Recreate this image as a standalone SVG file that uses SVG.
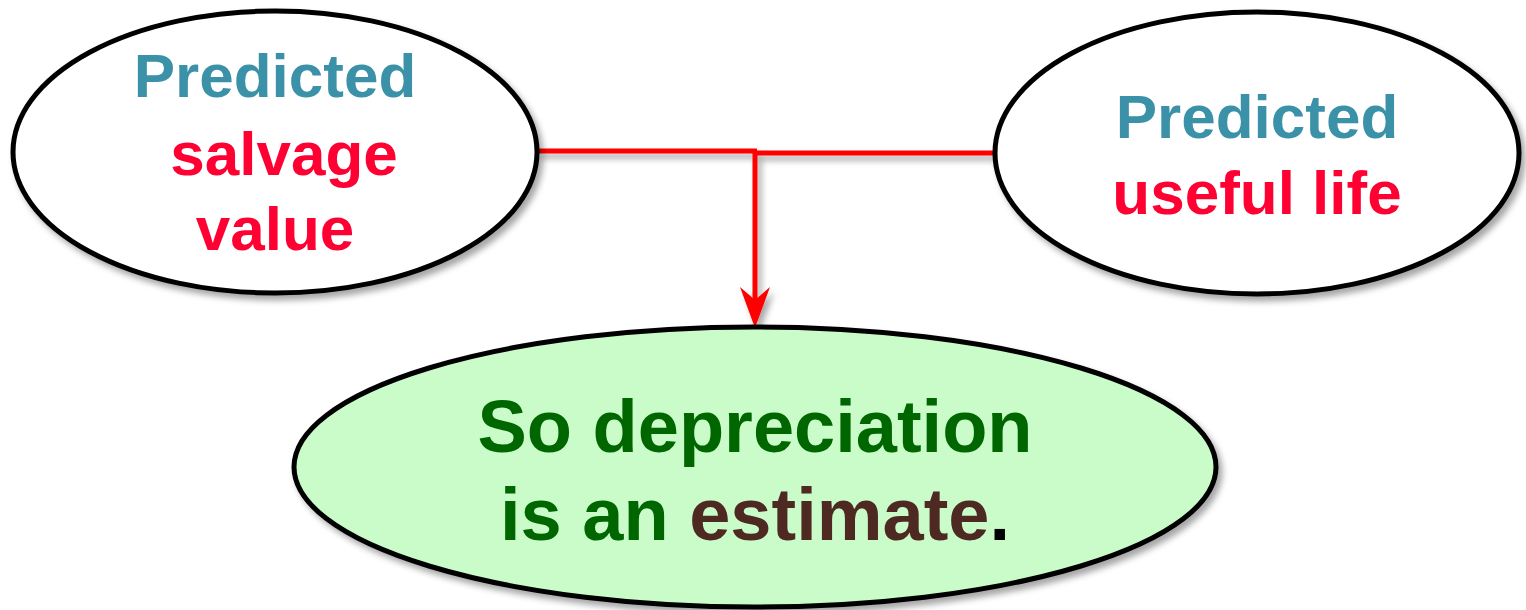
<svg xmlns="http://www.w3.org/2000/svg" width="1526" height="610" viewBox="0 0 1526 610">
  <defs>
    <filter id="shadow" x="-10%" y="-10%" width="125%" height="130%">
      <feDropShadow dx="4" dy="5" stdDeviation="3" flood-color="#000" flood-opacity="0.35"/>
    </filter>
    <style>
      .node { stroke: #000; stroke-width: 5; filter: url(#shadow); }
      .txt { font-family: "Liberation Sans", Arial, sans-serif; font-weight: bold; text-anchor: middle; }
      .teal { fill: #3B91A7; }
      .red { fill: #FF0033; }
      .green { fill: #006600; }
      .brown { fill: #4D2921; }
      .conn { stroke: #FF0000; stroke-width: 5; fill: none; }
    </style>
  </defs>
  <rect width="1526" height="610" fill="#fff"/>

  <g id="connectors" filter="url(#shadow)">
    <path class="conn" d="M537,151 H757"/>
    <path class="conn" d="M753,153 H995"/>
    <path class="conn" d="M755,151 V305"/>
    <path d="M755,328 L740,287 L755,300 L770,287 Z" fill="#FF0000"/>
  </g>

  <g id="node-salvage">
    <ellipse class="node" cx="275" cy="152" rx="262" ry="141" fill="#fff"/>
    <text class="txt teal" x="275" y="97" font-size="62">Predicted</text>
    <text class="txt red" x="284" y="175" font-size="62">salvage</text>
    <text class="txt red" x="275" y="250" font-size="62">value</text>
  </g>

  <g id="node-life">
    <ellipse class="node" cx="1257" cy="153" rx="262" ry="141" fill="#fff"/>
    <text class="txt teal" x="1257" y="138" font-size="62">Predicted</text>
    <text class="txt red" x="1257" y="214" font-size="62">useful life</text>
  </g>

  <g id="node-estimate">
    <ellipse class="node" cx="755" cy="467" rx="461" ry="140" fill="#C9FCC9"/>
    <text class="txt green" x="755" y="452" font-size="74">So depreciation</text>
    <text class="txt green" x="755" y="540" font-size="74">is an <tspan class="brown">estimate</tspan><tspan fill="#000">.</tspan></text>
  </g>
</svg>
